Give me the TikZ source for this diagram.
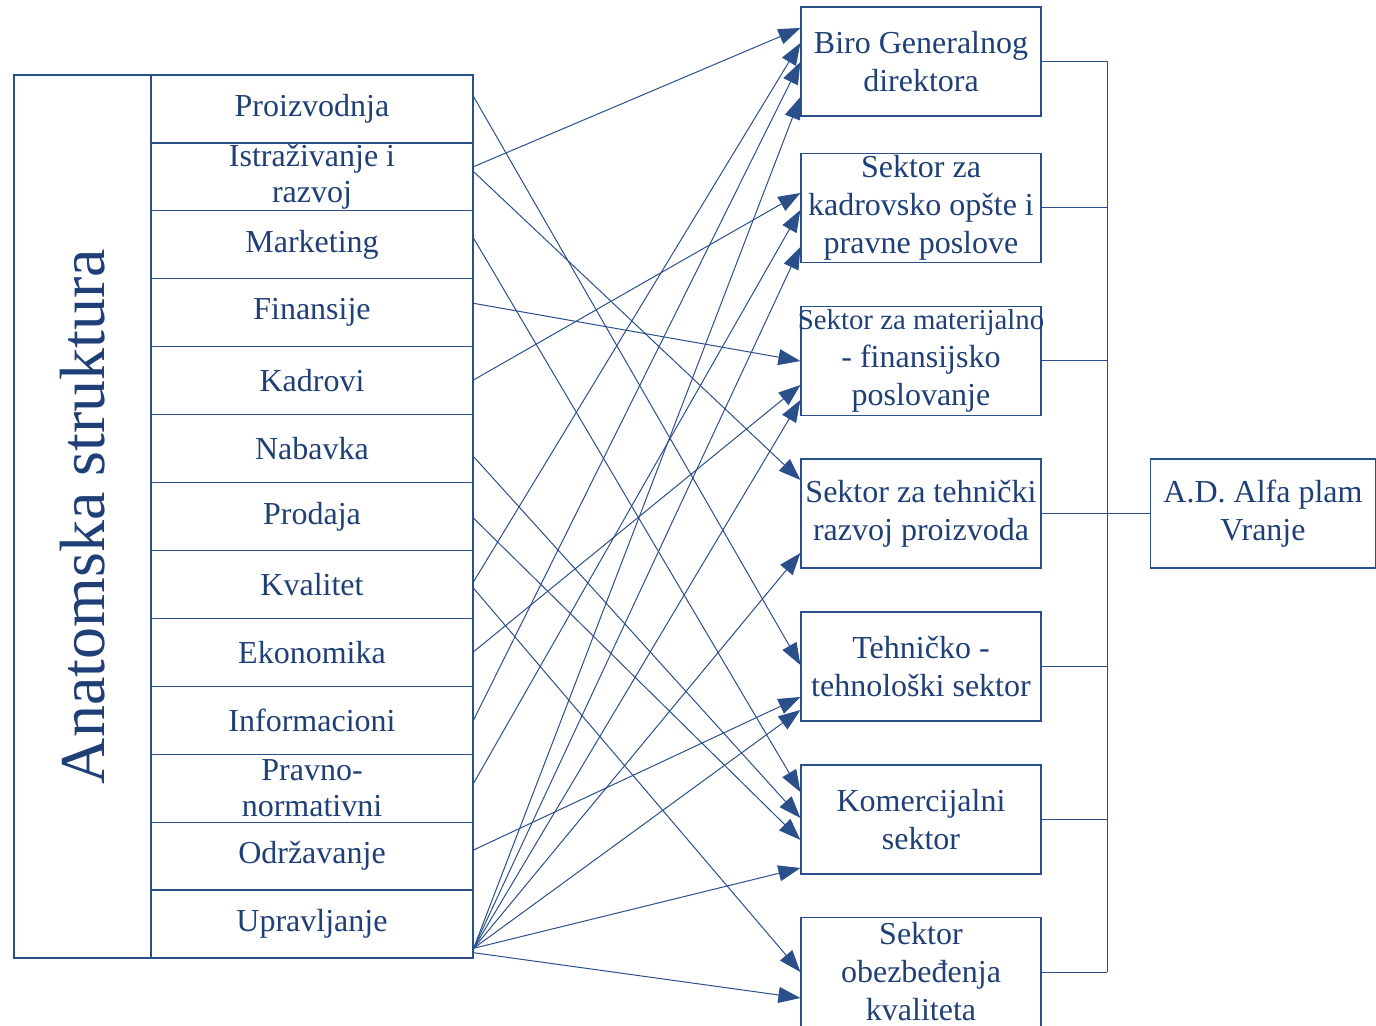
\documentclass[tikz,border=0pt]{standalone}
\usepackage{fontspec}
\setmainfont{Liberation Serif}
\usetikzlibrary{arrows.meta, calc}
\definecolor{orgtext}{HTML}{1F3F77}
\definecolor{orgline}{HTML}{2B4F8A}

\begin{document}
\begin{tikzpicture}[x=0.5pt, y=-0.5pt,
    cell/.style={draw=orgline, line width=0.6pt, inner sep=0pt, minimum width=161pt, minimum height=33.96pt, align=center, text=orgtext, font=\fontsize{16}{18}\selectfont},
    sektor/.style={draw=orgline, line width=0.6pt, inner sep=0pt, minimum width=120pt, minimum height=54.5pt, align=center, text=orgtext, font=\fontsize{16}{19}\selectfont},
    lnk/.style={orgline, line width=0.5pt, -{Triangle[length=11pt, width=8pt]}},
    bracket/.style={orgline, line width=0.5pt}]
    \def\rowh{67.92}
    \def\top{75}
    \useasboundingbox (0,0) rectangle (1376,1026);

    % left column
    \node[draw=orgline, line width=0.6pt, rotate=90, minimum width=441.5pt, minimum height=68.5pt, inner sep=0pt, text=orgtext, font=\fontsize{32}{36}\selectfont] (ana) at (82.5,516.5) {Anatomska struktura};
    \foreach \lbl [count=\i] in {Proizvodnja, {Istraživanje i\\razvoj}, Marketing, Finansije, Kadrovi, Nabavka, Prodaja, Kvalitet, Ekonomika, Informacioni, {Pravno-\\normativni}, Održavanje, Upravljanje} {
        \pgfmathsetmacro\cy{\top + \rowh*(\i-0.5)}
        \node[cell] (r\i) at (312, \cy) {\lbl};
    }

    % sectors
    \foreach \cy/\lbl [count=\i] in {61.5/{Biro Generalnog\\direktora}, 208/{Sektor za\\kadrovsko opšte i\\pravne poslove}, 361/{\fontsize{14.4}{17.5}\selectfont\makebox[118pt]{Sektor za materijalno}\\- finansijsko\\poslovanje}, 513.5/{Sektor za tehnički\\razvoj proizvoda}, 666.5/{Tehničko -\\tehnološki sektor}, 819.5/{Komercijalni\\sektor}, 972/{Sektor\\obezbeđenja\\kvaliteta}} {
        \node[sektor] (s\i) at (921, \cy) {\lbl};
    }
    \node[sektor, minimum width=112.5pt] (ad) at (1263, 513.5) {A.D. Alfa plam\\Vranje};

    % bracket
    \coordinate (bus) at (1107, 513.5);
    \foreach \i in {1,...,7}
        \draw[bracket] (s\i.east) -- (s\i.east -| bus);
    \draw[bracket] (s1.east -| bus) -- (s7.east -| bus);
    \draw[bracket] (bus) -- (ad.west);

    % links
    \foreach \a/\ao/\b/\bo in {1/-12.3/5/-1.5, 2/-10.2/1/-33.5, 2/-5.2/4/-33.5, 3/-6.5/6/-27.5, 4/-9.4/3/0, 5/-0.7/2/-15, 6/8.1/6/-1.5, 7/1.8/6/20.5, 8/-2.7/1/-18.5, 8/3.9/7/0, 9/-0.6/3/24, 10/-0.3/1/0.5, 11/-4.9/2/2, 12/-6.1/5/30.5, 13/24.3/1/35.5, 13/24.3/2/39, 13/24.3/3/39, 13/24.3/4/39.5, 13/24.3/5/43.5, 13/24.3/6/48.5, 13/28.7/7/26}
        \draw[lnk] ($(r\a.east)+(0,\ao)$) -- ($(s\b.west)+(0,\bo)$);
\end{tikzpicture}
\end{document}
